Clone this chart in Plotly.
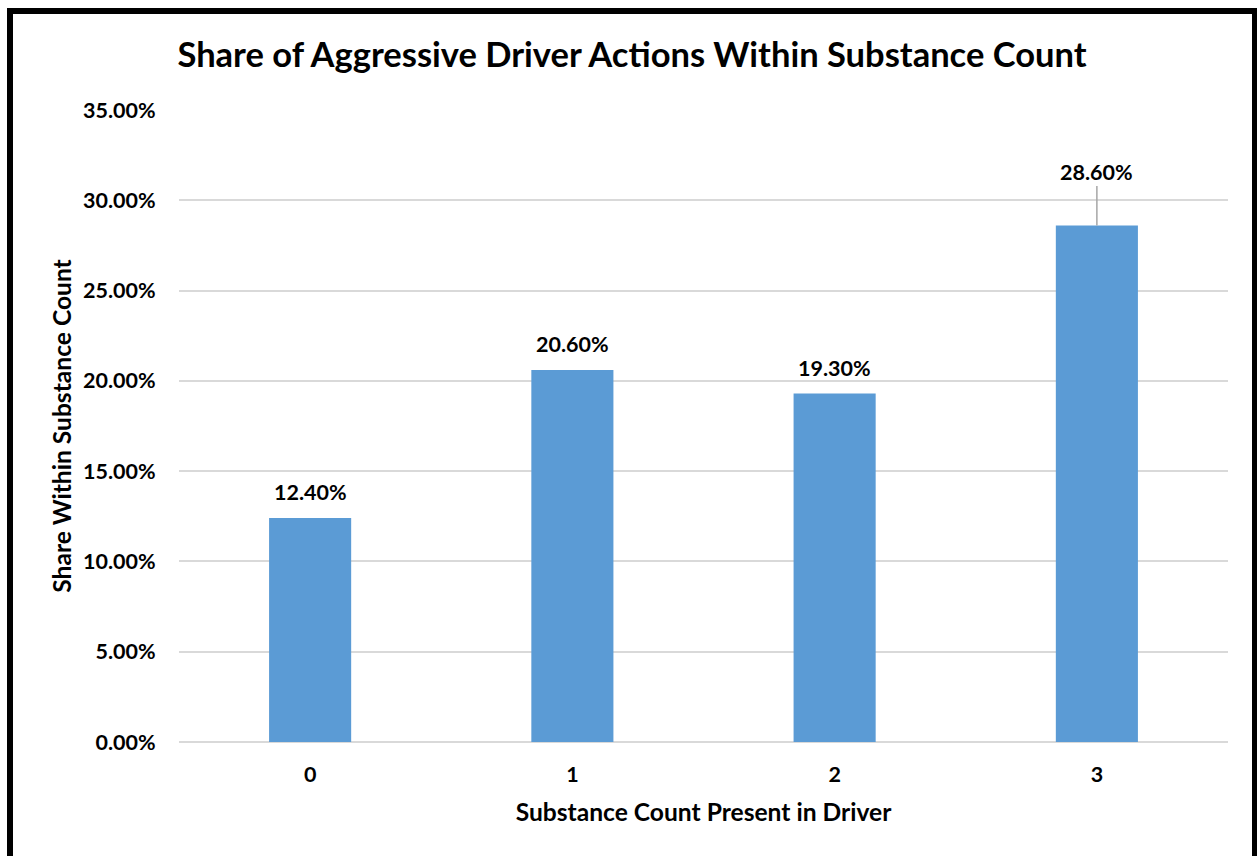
import plotly.graph_objects as go

# Share of aggressive driver actions by number of substances present
categories = ["0", "1", "2", "3"]
shares = [0.124, 0.206, 0.193, 0.286]
y_ticks = [0.0, 0.05, 0.10, 0.15, 0.20, 0.25, 0.30, 0.35]

W, H = 1257, 856
L, R, T, B = 179, 29, 110, 114
FONT = "Lato"
BAR = "#5b9bd5"
GRID = "#d9d9d9"
TICK_SIZE = 21.5
AXIS_TITLE_SIZE = 24.6

fig = go.Figure(
    go.Bar(
        x=categories,
        y=shares,
        marker=dict(color=BAR, line=dict(width=0)),
        width=0.313,
        hoverinfo="x+y",
    )
)

# value labels above bars; the tallest one sits higher with a leader line
label_font = dict(family=FONT, size=TICK_SIZE, color="black", weight="bold")
annotations = []
for i, (c, v) in enumerate(zip(categories, shares)):
    label = f"{v * 100:.2f}%"
    if i == len(categories) - 1:
        annotations.append(dict(
            x=c, y=v, xref="x", yref="y", text=label,
            showarrow=True, ax=0, ay=-54, arrowhead=0, arrowwidth=1.5,
            arrowcolor="#a6a6a6", standoff=0, font=label_font,
        ))
    else:
        annotations.append(dict(
            x=c, y=v, xref="x", yref="y", text=label, showarrow=False,
            yshift=26, font=label_font,
        ))

pw, ph = W - L - R, H - T - B


def px_x(p):
    return (p - L) / pw


def px_y(p):
    return (H - B - p) / ph


# outer frame (left, top, right edges)
frame = dict(type="line", xref="paper", yref="paper",
             line=dict(color="black", width=6), layer="above")
shapes = [
    dict(frame, x0=px_x(10), x1=px_x(10), y0=px_y(8), y1=px_y(H + 10)),
    dict(frame, x0=px_x(7), x1=px_x(W + 10), y0=px_y(11), y1=px_y(11)),
    dict(frame, x0=px_x(1255), x1=px_x(1255), y0=px_y(8), y1=px_y(H + 10)),
]

fig.update_layout(
    width=W, height=H,
    margin=dict(l=L, r=R, t=T, b=B),
    paper_bgcolor="white", plot_bgcolor="white",
    showlegend=False,
    title=dict(
        text="Share of Aggressive Driver Actions Within Substance Count",
        x=632 / W, xanchor="center", y=1 - 55 / H, yanchor="middle",
        font=dict(family=FONT, size=34.5, color="black", weight="bold"),
    ),
    xaxis=dict(
        type="category",
        showgrid=False, showline=False, zeroline=False,
        ticks="outside", ticklen=13, tickcolor="rgba(0,0,0,0)",
        tickfont=dict(family=FONT, size=TICK_SIZE, color="black", weight="bold"),
        title=dict(text="Substance Count Present in Driver", standoff=17,
                   font=dict(family=FONT, size=AXIS_TITLE_SIZE, color="black", weight="bold")),
    ),
    yaxis=dict(
        range=[0, 0.35],
        tickvals=y_ticks, tickformat=".2%",
        showgrid=True, gridcolor=GRID, gridwidth=2,
        zeroline=True, zerolinecolor=GRID, zerolinewidth=2,
        showline=False,
        ticks="outside", ticklen=18, tickcolor="rgba(0,0,0,0)",
        tickfont=dict(family=FONT, size=TICK_SIZE, color="black", weight="bold"),
        title=dict(text="Share Within Substance Count", standoff=4,
                   font=dict(family=FONT, size=AXIS_TITLE_SIZE, color="black", weight="bold")),
    ),
    annotations=annotations,
    shapes=shapes,
)

fig.write_html("out.html")
